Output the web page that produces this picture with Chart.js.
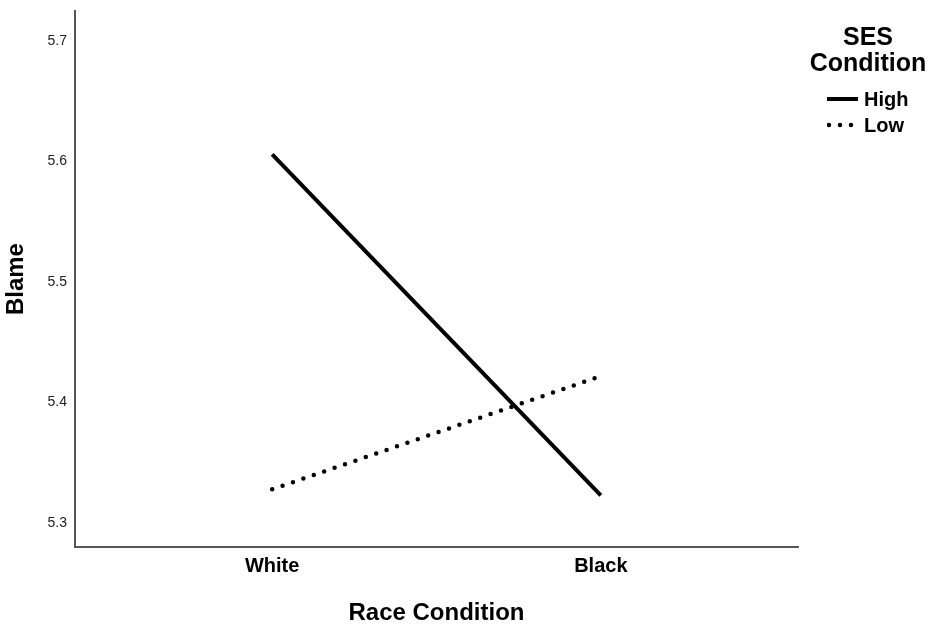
<!DOCTYPE html>
<html>
<head>
<meta charset="utf-8">
<script src="https://cdn.jsdelivr.net/npm/chart.js@4.4.1/dist/chart.umd.min.js"></script>
<style>
  html, body { margin: 0; padding: 0; background: #fff; }
  #wrap { position: relative; width: 935px; height: 632px; }
  #legend { position: absolute; left: 800px; top: 0; width: 135px; font-family: 'Liberation Sans', Arial, sans-serif; color: #000; }
  #legend .title { position: absolute; left: 0; top: 23px; width: 136px; text-align: center; font-weight: bold; font-size: 25px; line-height: 26px; }
  #legend .item { position: absolute; left: 27px; height: 24px; display: flex; align-items: center; font-weight: bold; font-size: 20px; }
  #legend .item svg { margin-right: 6px; }
</style>
</head>
<body>
<div id="wrap">
  <canvas id="lineChart" width="935" height="632"></canvas>
  <div id="legend"></div>
</div>
<script>
// Race x SES interaction
var raceLabels = ["White", "Black"];
var sesLabels = ["High", "Low"];
var highValues = [5.606, 5.323];
var lowValues = [5.328, 5.422];
var yTicks = [5.3, 5.4, 5.5, 5.6, 5.7];

var font = "'Liberation Sans', Arial, sans-serif";

function points(values) {
    return values.map(function (v, i) { return { x: i, y: v }; });
}

var ctx = document.getElementById("lineChart");

var chart = new Chart(ctx, {
    type: 'line',
    data: {
        datasets: [{
            label: sesLabels[0],
            data: points(highValues),
            borderColor: '#000',
            borderWidth: 4,
            pointRadius: 0,
            borderCapStyle: 'butt'
        }, {
            label: sesLabels[1],
            data: points(lowValues),
            borderColor: '#000',
            borderWidth: 4.5,
            borderDash: [0, 11],
            borderCapStyle: 'round',
            pointRadius: 0
        }]
    },
    options: {
        responsive: false,
        animation: false,
        layout: { padding: { top: 11, right: 137, bottom: 0, left: 0 } },
        plugins: {
            legend: { display: false },
            tooltip: { enabled: false }
        },
        scales: {
            x: {
                type: 'linear',
                min: -0.6,
                max: 1.6,
                grid: { display: false, drawTicks: false },
                border: { display: true, color: '#555', width: 2 },
                afterBuildTicks: function (scale) {
                    scale.ticks = raceLabels.map(function (l, i) { return { value: i }; });
                },
                ticks: {
                    padding: 7,
                    color: '#000',
                    font: { family: font, size: 20, weight: 'bold' },
                    callback: function (v) { return raceLabels[v]; }
                },
                title: {
                    display: true,
                    text: 'Race Condition',
                    color: '#000',
                    font: { family: font, size: 24, weight: 'bold' },
                    padding: { top: 14, bottom: 4 }
                }
            },
            y: {
                min: 5.28,
                max: 5.725,
                grid: { display: false, drawTicks: false },
                border: { display: true, color: '#555', width: 2 },
                afterBuildTicks: function (scale) {
                    scale.ticks = yTicks.map(function (v) { return { value: v }; });
                },
                afterFit: function (scale) {
                    scale.width = 75;
                    scale.paddingTop = 0;
                    scale.paddingBottom = 0;
                },
                ticks: {
                    padding: 8,
                    color: '#222',
                    font: { family: font, size: 14 },
                    callback: function (v) { return v.toFixed(1); }
                },
                title: {
                    display: true,
                    text: 'Blame',
                    color: '#000',
                    font: { family: font, size: 24, weight: 'bold' },
                    padding: { top: 2, bottom: 0 }
                }
            }
        }
    }
});

// legend built from the datasets
var legend = document.getElementById("legend");
var html = '<div class="title">SES<br>Condition</div>';
chart.data.datasets.forEach(function (ds, i) {
    var dash = ds.borderDash ? ds.borderDash.join(',') : 'none';
    var cap = ds.borderCapStyle || 'butt';
    html += '<div class="item" style="top:' + (87 + i * 26) + 'px">' +
        '<svg width="31" height="8"><line x1="' + (cap === 'round' ? 2 : 0) + '" y1="4" x2="31" y2="4" stroke="#000" stroke-width="' + ds.borderWidth +
        '" stroke-dasharray="' + dash + '" stroke-linecap="' + cap + '"/></svg>' + ds.label + '</div>';
});
legend.innerHTML = html;
</script>
</body>
</html>
